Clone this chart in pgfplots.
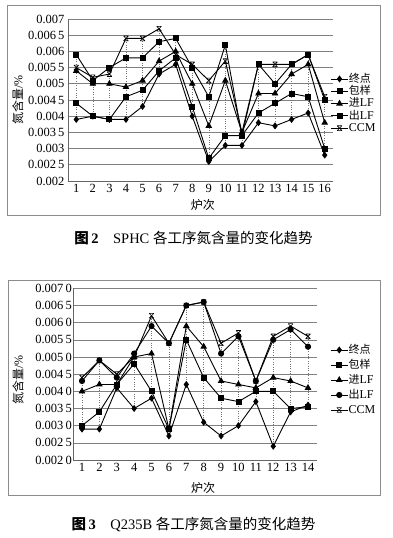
\documentclass[border=0pt]{standalone}
\usepackage{fontspec}
\setmainfont{Liberation Serif}
\newfontfamily\cjk{Noto Sans CJK SC}
\usepackage{pgfplots}
\usepackage{pgfplotstable}
\pgfplotsset{compat=1.18}

\newcommand{\zh}[1]{{\cjk\fontsize{11}{12}\selectfont #1}}

\pgfdeclareplotmark{hourglass}{%
  \pgfpathmoveto{\pgfqpoint{-\pgfplotmarksize}{\pgfplotmarksize}}%
  \pgfpathlineto{\pgfqpoint{\pgfplotmarksize}{-\pgfplotmarksize}}%
  \pgfpathmoveto{\pgfqpoint{-\pgfplotmarksize}{-\pgfplotmarksize}}%
  \pgfpathlineto{\pgfqpoint{\pgfplotmarksize}{\pgfplotmarksize}}%
  \pgfpathmoveto{\pgfqpoint{-\pgfplotmarksize}{\pgfplotmarksize}}%
  \pgfpathlineto{\pgfqpoint{\pgfplotmarksize}{\pgfplotmarksize}}%
  \pgfpathmoveto{\pgfqpoint{-\pgfplotmarksize}{-\pgfplotmarksize}}%
  \pgfpathlineto{\pgfqpoint{\pgfplotmarksize}{-\pgfplotmarksize}}%
  \pgfusepathqstroke}

% SPHC: heats 1-16
\pgfplotstableread{
x  zd     by     jr     cl     ccm    lo     hi
1  0.0039 0.0044 0.0054 0.0059 0.0055 0.0039 0.0059
2  0.0040 0.0040 0.0050 0.0051 0.0052 0.0040 0.0052
3  0.0039 0.0039 0.0050 0.0055 0.0053 0.0039 0.0055
4  0.0039 0.0046 0.0049 0.0058 0.0064 0.0039 0.0064
5  0.0043 0.0048 0.0051 0.0058 0.0064 0.0043 0.0064
6  0.0053 0.0054 0.0057 0.0063 0.0067 0.0053 0.0067
7  0.0056 0.0058 0.0060 0.0064 0.0059 0.0056 0.0064
8  0.0040 0.0043 0.0050 0.0055 0.0056 0.0040 0.0056
9  0.0026 0.0027 0.0037 0.0046 0.0051 0.0026 0.0051
10 0.0031 0.0034 0.0051 0.0062 0.0057 0.0031 0.0062
11 0.0031 0.0034 0.0035 0.0034 0.0035 0.0031 0.0035
12 0.0038 0.0041 0.0047 0.0056 0.0056 0.0038 0.0056
13 0.0037 0.0044 0.0047 0.0050 0.0056 0.0037 0.0056
14 0.0039 0.0047 0.0053 0.0056 0.0056 0.0039 0.0056
15 0.0041 0.0046 0.0056 0.0059 0.0059 0.0041 0.0059
16 0.0028 0.0030 0.0038 0.0045 0.0046 0.0028 0.0046
}\sphc

% Q235B: heats 1-14
\pgfplotstableread{
x  zd      by      jr     cl     ccm    lo      hi
1  0.0029  0.0030  0.0040 0.0043 0.0044 0.0029  0.0044
2  0.0029  0.0034  0.0042 0.0049 0.0049 0.0029  0.0049
3  0.0041  0.0042  0.0042 0.0044 0.0045 0.0041  0.0045
4  0.0035  0.0048  0.0050 0.0051 0.0050 0.0035  0.0051
5  0.0038  0.0040  0.0051 0.0059 0.0062 0.0038  0.0062
6  0.0027  0.0029  0.0029 0.0054 0.0054 0.0027  0.0054
7  0.0042  0.0055  0.0059 0.0065 0.0065 0.0042  0.0065
8  0.0031  0.0044  0.0053 0.0066 0.0066 0.0031  0.0066
9  0.0027  0.0038  0.0043 0.0051 0.0054 0.0027  0.0054
10 0.0030  0.0037  0.0042 0.0056 0.0057 0.0030  0.0057
11 0.0037  0.0040  0.0041 0.0043 0.0043 0.0037  0.0043
12 0.0024  0.0040  0.0044 0.0055 0.0056 0.0024  0.0056
13 0.0034  0.0035  0.0043 0.0058 0.0059 0.0034  0.0059
14 0.0036  0.00355 0.0041 0.0053 0.0056 0.00355 0.0056
}\qb

\pgfplotsset{
  nchart/.style={
    scale only axis, anchor=south west,
    ymin=0.002, ymax=0.007, scaled y ticks=false,
    ytick={0.002,0.0025,0.003,0.0035,0.004,0.0045,0.005,0.0055,0.006,0.0065,0.007},
    ymajorgrids, grid style={black!50, line width=0.6pt},
    axis lines=left, axis line style={-, black!60, line width=0.7pt},
    major tick length=0pt,
    /pgf/number format/assume math mode=true,
    tick label style={font=\fontsize{12.5}{13}\selectfont},
    legend cell align=left,
    legend style={draw=none, fill=none, font=\fontsize{12}{13}\selectfont,
      inner sep=0pt, nodes={inner sep=0.3pt, text height=8.2pt, text depth=1.8pt}},
    every axis plot/.append style={black, line width=0.9pt},
  },
  hl/.style={draw=none, mark=none, forget plot,
    error bars/.cd, y dir=plus, y explicit, error mark=none,
    error bar style={draw=black!55, dotted, line width=0.5pt}},
}

\begin{document}
\begin{tikzpicture}
\useasboundingbox (0,0) rectangle (393pt,538pt);
\draw[black!45, line width=0.6pt] (7pt,323pt) rectangle (380pt,533pt);
\draw[black!45, line width=0.6pt] (8pt,43pt) rectangle (380pt,258pt);

\begin{axis}[nchart,
  at={(68pt,357pt)}, width=265pt, height=162pt,
  xmin=0.5, xmax=16.5, xtick={1,...,16},
  yticklabels={0.002,0.002\,5,0.003,0.003\,5,0.004,0.004\,5,0.005,0.005\,5,0.006,0.006\,5,0.007},
  xlabel={{\cjk\fontsize{12}{13}\selectfont 炉次}},
  xlabel style={at={(axis description cs:0.509,-0.148)}, anchor=center},
  ylabel={{\cjk\fontsize{12}{13}\selectfont 氮含量}/\%},
  ylabel style={at={(axis description cs:-0.189,0.5)}, anchor=center, font=\fontsize{12}{13}\selectfont},
  legend style={at={(0.99,0.478)}, anchor=west, row sep=1.7pt},
]
\addplot[hl] table[x=x, y=lo, y error expr=\thisrow{hi}-\thisrow{lo}] {\sphc};
\addplot[mark=diamond*, mark size=2.8pt] table[x=x, y=zd] {\sphc};
\addlegendentry{\zh{终点}}
\addplot[mark=square*, mark size=2.5pt] table[x=x, y=by] {\sphc};
\addlegendentry{\zh{包样}}
\addplot[mark=triangle*, mark size=3pt] table[x=x, y=jr] {\sphc};
\addlegendentry{\zh{进}LF}
\addplot[mark=square*, mark size=2.5pt] table[x=x, y=cl] {\sphc};
\addlegendentry{\zh{出}LF}
\addplot[mark=hourglass, mark size=2.4pt, mark options={line width=0.6pt}] table[x=x, y=ccm] {\sphc};
\addlegendentry{CCM}
\end{axis}

\node[font=\fontsize{14.5}{16}\selectfont] at (193.5pt,300pt)
  {{\cjk\bfseries 图}\,\textbf{2}\quad SPHC {\cjk 各工序氮含量的变化趋势}};

\begin{axis}[nchart,
  at={(73.3pt,78pt)}, width=243.4pt, height=171.7pt,
  xmin=0.5, xmax=14.5, xtick={1,...,14},
  yticklabels={0.002\,0,0.002\,5,0.003\,0,0.003\,5,0.004\,0,0.004\,5,0.005\,0,0.005\,5,0.006\,0,0.006\,5,0.007\,0},
  yticklabel style={xshift=2pt},
  xlabel={{\cjk\fontsize{12}{13}\selectfont 炉次}},
  xlabel style={at={(axis description cs:0.533,-0.163)}, anchor=center},
  ylabel={{\cjk\fontsize{12}{13}\selectfont 氮含量}/\%},
  ylabel style={at={(axis description cs:-0.227,0.466)}, anchor=center, font=\fontsize{12}{13}\selectfont},
  legend style={at={(1.055,0.466)}, anchor=west, row sep=4.4pt},
]
\addplot[hl] table[x=x, y=lo, y error expr=\thisrow{hi}-\thisrow{lo}] {\qb};
\addplot[mark=diamond*, mark size=2.8pt] table[x=x, y=zd] {\qb};
\addlegendentry{\zh{终点}}
\addplot[mark=square*, mark size=2.5pt] table[x=x, y=by] {\qb};
\addlegendentry{\zh{包样}}
\addplot[mark=triangle*, mark size=3pt] table[x=x, y=jr] {\qb};
\addlegendentry{\zh{进}LF}
\addplot[mark=*, mark size=2.6pt] table[x=x, y=cl] {\qb};
\addlegendentry{\zh{出}LF}
\addplot[mark=hourglass, mark size=2.4pt, mark options={line width=0.6pt}] table[x=x, y=ccm] {\qb};
\addlegendentry{CCM}
\end{axis}

\node[font=\fontsize{14.5}{16}\selectfont] at (193.5pt,13pt)
  {{\cjk\bfseries 图}\,\textbf{3}\quad Q235B {\cjk 各工序氮含量的变化趋势}};
\end{tikzpicture}
\end{document}
